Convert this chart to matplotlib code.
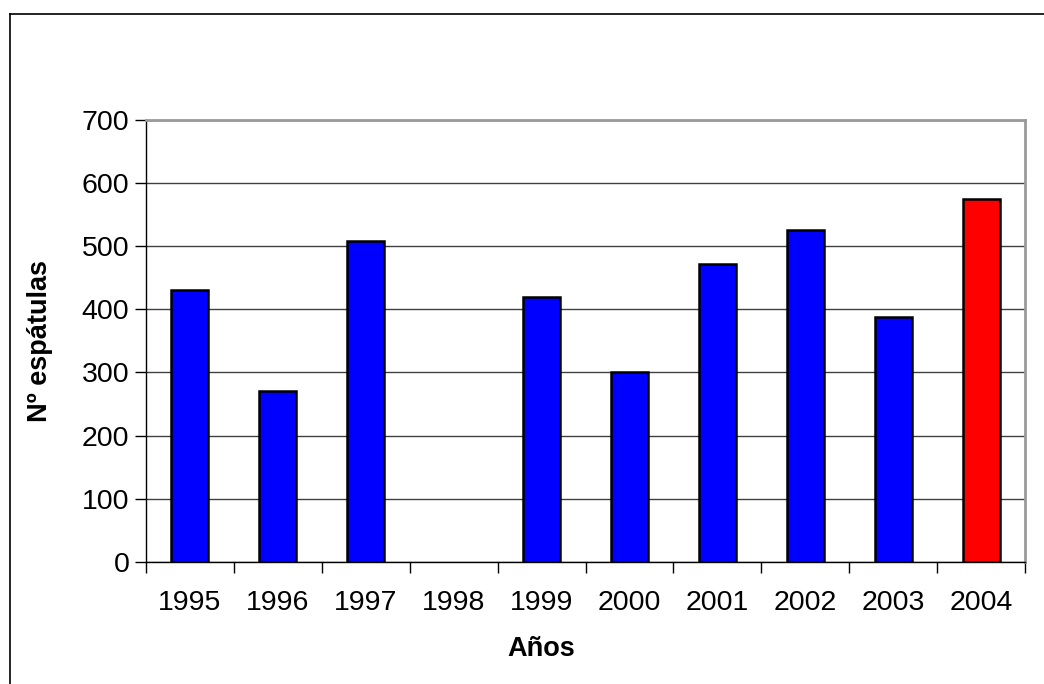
import numpy as np
import matplotlib.pyplot as plt
from matplotlib.lines import Line2D

plt.rcParams['font.family'] = ['Liberation Sans', 'DejaVu Sans']

anios = ['1995', '1996', '1997', '1998', '1999', '2000', '2001', '2002', '2003', '2004']
espatulas = [431, 271, 508, 0, 419, 301, 472, 525, 388, 574]
colores = ['#0000ff'] * 9 + ['#ff0000']

W, H = 1044, 684
fig = plt.figure(figsize=(W / 100, H / 100), dpi=100)
ax = fig.add_axes([146 / W, 1 - 562 / H, (1025 - 146) / W, (562 - 119.5) / H])

x = np.arange(len(anios))
# sin borde en los años sin dato
bordes = [1.8 if v > 0 else 0 for v in espatulas]
ax.bar(x, espatulas, width=0.42, color=colores, edgecolor='black', linewidth=bordes, zorder=3)

ax.set_xlim(-0.5, len(anios) - 0.5)
ax.set_ylim(0, 700)
ax.set_yticks(np.arange(0, 701, 100))
ax.yaxis.grid(True, color='#404040', linewidth=1.0, zorder=0)

# marcas del eje x entre categorías, etiquetas centradas
ax.set_xticks(np.arange(-0.5, len(anios), 1.0))
ax.set_xticklabels([])
ax.set_xticks(x, minor=True)
ax.set_xticklabels(anios, minor=True)
ax.tick_params(axis='x', which='major', length=8, width=1, color='black', direction='out')
ax.tick_params(axis='x', which='minor', length=0, pad=20, labelsize=20.5)
ax.tick_params(axis='y', length=8, width=1, color='black', direction='out', pad=4, labelsize=20.5)

for lado in ['top', 'right']:
    ax.spines[lado].set_color('#9a9a9a')
    ax.spines[lado].set_linewidth(2)
ax.spines['left'].set_color('black')
ax.spines['bottom'].set_color('black')
ax.spines['left'].set_linewidth(1)
ax.spines['bottom'].set_linewidth(1)

fig.text(541 / W, 1 - 649 / H, 'Años', ha='center', va='center', fontsize=19.5, fontweight='bold')
fig.text(40 / W, 1 - 341 / H, 'Nº espátulas', ha='center', va='center', rotation=90,
         fontsize=19.5, fontweight='bold')

# marco exterior del gráfico
fig.add_artist(Line2D([9.5 / W, 9.5 / W], [1 - 14 / H, -0.01], color='black', linewidth=1.2,
                      transform=fig.transFigure))
fig.add_artist(Line2D([9.5 / W, 1.01], [1 - 14 / H, 1 - 14 / H], color='black', linewidth=1.2,
                      transform=fig.transFigure))

fig.savefig('out.png', dpi=100, facecolor='white')
